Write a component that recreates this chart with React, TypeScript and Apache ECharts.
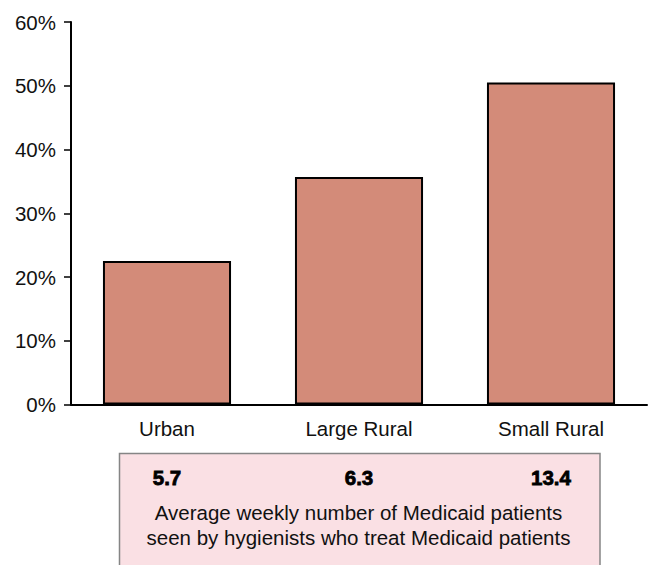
import React, { useEffect, useRef } from "react";
import * as echarts from "echarts";

const categories = ["Urban", "Large Rural", "Small Rural"];
const shareValues = [22.5, 35.7, 50.5];
const weeklyPatients = ["5.7", "6.3", "13.4"];
const yTicks = { min: 0, max: 60, interval: 10 };
const noteLines = [
  "Average weekly number of Medicaid patients",
  "seen by hygienists who treat Medicaid patients",
];

const FONT = "'Liberation Sans', Arial, Helvetica, sans-serif";

export default function App() {
  const ref = useRef<HTMLDivElement>(null);
  useEffect(() => {
    if (!ref.current) return;
    const chart = echarts.init(ref.current, null, { renderer: "svg" });
    chart.setOption({
      animation: false,
      backgroundColor: "#ffffff",
      textStyle: { fontFamily: FONT },
      grid: { left: 71, right: 1, top: 22, bottom: 160.5, containLabel: false },
      xAxis: [
        {
          type: "category",
          data: categories,
          position: "bottom",
          axisLine: { show: true, lineStyle: { color: "#000", width: 2 } },
          axisTick: { show: false },
          axisLabel: {
            interval: 0,
            margin: 13,
            color: "#111",
            fontSize: 20.5,
            fontFamily: FONT,
          },
        },
        {
          type: "category",
          data: categories,
          position: "bottom",
          axisLine: { show: false },
          axisTick: { show: false },
          axisLabel: {
            interval: 0,
            margin: 62,
            color: "#000",
            fontSize: 20.5,
            fontWeight: "bold",
            fontFamily: FONT,
            textBorderColor: "#000",
            textBorderWidth: 0.8,
            formatter: (_v: string, i: number) => weeklyPatients[i],
          },
        },
      ],
      yAxis: {
        type: "value",
        min: yTicks.min,
        max: yTicks.max,
        interval: yTicks.interval,
        axisLine: { show: true, lineStyle: { color: "#000", width: 2 } },
        axisTick: { show: true, length: 7, lineStyle: { color: "#000", width: 1.5 } },
        splitLine: { show: false },
        axisLabel: {
          margin: 15,
          color: "#111",
          fontSize: 20.5,
          fontFamily: FONT,
          formatter: "{value}%",
        },
      },
      series: [
        {
          type: "bar",
          xAxisIndex: 0,
          data: shareValues,
          barWidth: "66.7%",
          itemStyle: { color: "#d38b79", borderColor: "#000", borderWidth: 2 },
          z: 2,
        },
      ],
      graphic: [
        {
          type: "rect",
          z: -10,
          shape: { x: 119.5, y: 453.5, width: 480.5, height: 130 },
          style: { fill: "#fae0e4", stroke: "#858585", lineWidth: 1.5 },
        },
        {
          type: "text",
          z: 10,
          x: 358.5,
          y: 499.5,
          style: {
            text: noteLines.join("\n"),
            align: "center",
            verticalAlign: "top",
            fontSize: 20.5,
            lineHeight: 25,
            fontFamily: FONT,
            fill: "#111",
          },
        },
      ],
    });
    return () => chart.dispose();
  }, []);
  return <div ref={ref} style={{ width: 648, height: 565, position: "absolute", left: 0, top: 0 }} />;
}
